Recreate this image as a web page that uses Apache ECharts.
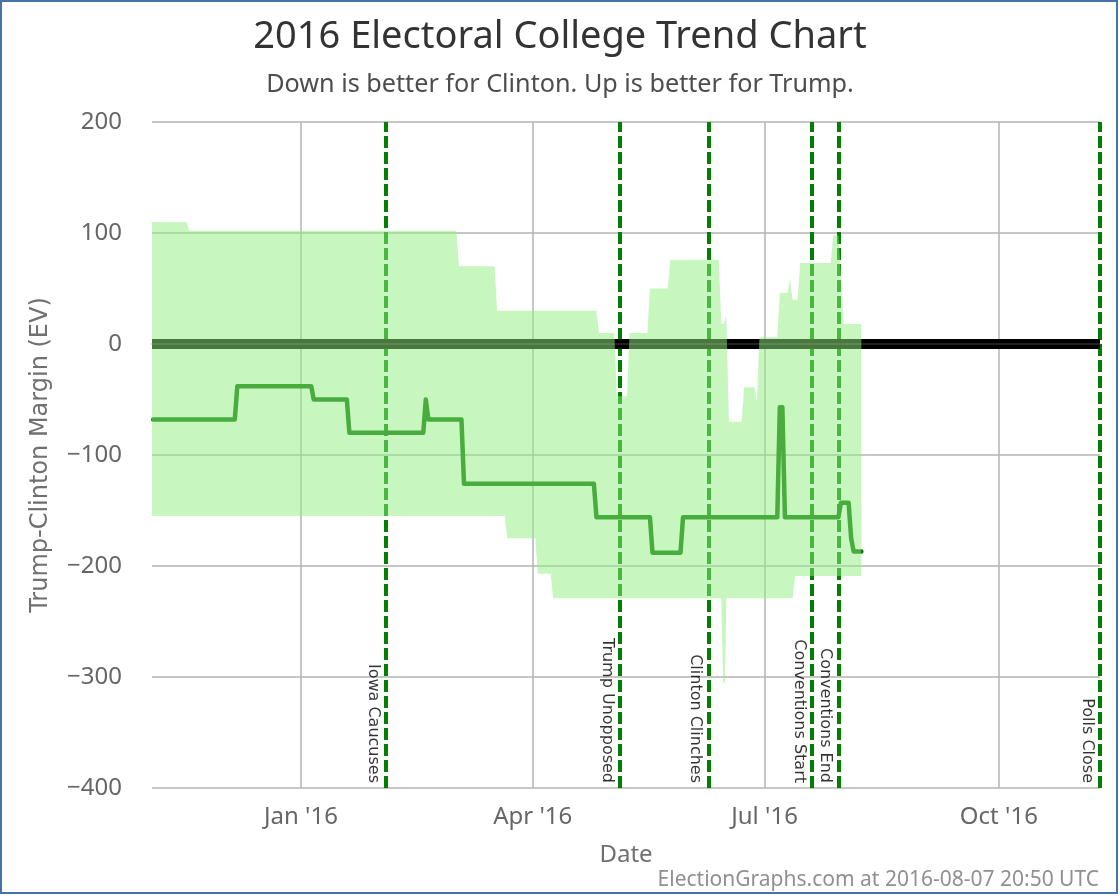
<!DOCTYPE html>
<html>
<head>
<meta charset="utf-8">
<script src="https://cdn.jsdelivr.net/npm/echarts@6/dist/echarts.min.js"></script>
<style>
    html, body { margin: 0; padding: 0; background: #fff; }
    #chart { width: 1120px; height: 896px; }
</style>
</head>
<body>
<div id="chart"></div>
<script>
const tickDates = ["2016-01-01", "2016-04-01", "2016-07-01", "2016-10-01"]
const tickLabels = ["Jan '16", "Apr '16", "Jul '16", "Oct '16"]

const eventNames = ["Iowa Caucuses", "Trump Unopposed", "Clinton Clinches", "Conventions Start", "Conventions End", "Polls Close"]
const eventDates = ["2016-02-03 10:00", "2016-05-05 06:00", "2016-06-09", "2016-07-19 14:00", "2016-07-30", "2016-11-09 17:00"]

// upper edge of the range
const upperDates = ["2015-11-03 12:00", "2015-11-17", "2015-11-18", "2016-03-02", "2016-03-03", "2016-03-17", "2016-03-18",
    "2016-04-26", "2016-04-27", "2016-05-03", "2016-05-04", "2016-05-08", "2016-05-09", "2016-05-16", "2016-05-17",
    "2016-05-24", "2016-05-25", "2016-06-13", "2016-06-14", "2016-06-15", "2016-06-16", "2016-06-17", "2016-06-22",
    "2016-06-23", "2016-06-27", "2016-06-28", "2016-06-29", "2016-07-06", "2016-07-07", "2016-07-10", "2016-07-11",
    "2016-07-12", "2016-07-14", "2016-07-15", "2016-07-27", "2016-07-28", "2016-07-30", "2016-07-31", "2016-08-01", "2016-08-08"]
const upperValues = [110, 110, 102, 102, 70, 70, 30,
    30, 10, 10, -47, -47, 10, 10, 50,
    50, 76, 76, 18, 18, 25, -70, -70,
    -39, -39, -52, 6, 6, 46, 46, 58,
    40, 40, 73, 73, 98, 98, 62, 18, 18]

// lower edge of the range
const lowerDates = ["2015-11-03 12:00", "2016-03-21", "2016-03-22", "2016-04-02", "2016-04-03", "2016-04-08", "2016-04-09",
    "2016-06-14", "2016-06-14 18:00", "2016-06-15 12:00", "2016-06-16", "2016-07-12", "2016-07-13", "2016-08-08"]
const lowerValues = [-155, -155, -175, -175, -207, -207, -229,
    -229, -305, -305, -229, -229, -209, -209]

// center line
const marginDates = ["2015-11-04", "2015-12-06", "2015-12-07", "2016-01-05", "2016-01-06", "2016-01-19", "2016-01-20",
    "2016-02-18", "2016-02-19", "2016-02-20", "2016-03-04", "2016-03-05", "2016-04-25", "2016-04-26",
    "2016-05-17", "2016-05-18", "2016-05-29", "2016-05-30", "2016-07-06", "2016-07-07", "2016-07-08", "2016-07-09",
    "2016-07-30", "2016-07-31", "2016-08-03", "2016-08-04", "2016-08-05", "2016-08-08"]
const marginValues = [-68, -68, -38, -38, -50, -50, -80,
    -80, -50, -68, -68, -126, -126, -156,
    -156, -188, -188, -156, -156, -57, -57, -156,
    -156, -143, -143, -175, -187, -187]

const toMs = (d) => echarts.time.parse(d).getTime()
const zip = (dates, values) => dates.map((d, i) => [toMs(d), values[i]])

const tickMs = tickDates.map(toMs)
const upperPoints = zip(upperDates, upperValues)
const lowerPoints = zip(lowerDates, lowerValues).reverse()
const FONT = "Noto Sans"
const ROTATED_FONT = "DejaVu Sans"

const chart = echarts.init(document.getElementById("chart"))

chart.setOption({
    animation: false,
    backgroundColor: "#fff",
    title: [{
        text: "2016 Electoral College Trend Chart",
        left: "center",
        top: 13,
        textStyle: { fontFamily: FONT, fontSize: 38, fontWeight: "normal", color: "#333" },
    }, {
        text: "Down is better for Clinton. Up is better for Trump.",
        left: "center",
        top: 67,
        textStyle: { fontFamily: FONT, fontSize: 25.2, fontWeight: "normal", color: "#4d4d4d" },
    }, {
        text: "ElectionGraphs.com at 2016-08-07 20:50 UTC",
        right: 16,
        top: 865,
        textStyle: { fontFamily: FONT, fontSize: 21, fontWeight: "normal", color: "#909090" },
    }],
    graphic: [{
        type: "rect",
        shape: { x: 1, y: 1, width: 1116, height: 892 },
        style: { fill: "none", stroke: "#4572a7", lineWidth: 2 },
        silent: true,
    }],
    grid: { left: 152, right: 20, top: 122, bottom: 108 },
    xAxis: {
        type: "value",
        min: toMs("2015-11-03 12:00"),
        max: toMs("2016-11-09 17:00"),
        name: "Date",
        nameLocation: "middle",
        nameGap: 55,
        nameTextStyle: { fontFamily: FONT, fontSize: 24, color: "#707070" },
        axisLine: { lineStyle: { color: "#c0d0e0", width: 2 } },
        axisTick: { show: false, customValues: tickMs },
        axisLabel: {
            customValues: tickMs,
            fontFamily: FONT,
            fontSize: 24,
            color: "#666",
            margin: 17,
            formatter: (value) => tickLabels[tickMs.indexOf(value)],
        },
        splitLine: { show: true, lineStyle: { color: "#b3b3b3", width: 1.5 } },
    },
    yAxis: {
        type: "value",
        min: -400,
        max: 200,
        interval: 100,
        name: "Trump-Clinton Margin (EV)",
        nameLocation: "middle",
        nameGap: 99,
        nameTextStyle: { fontFamily: ROTATED_FONT, fontSize: 24, color: "#707070" },
        axisLine: { show: false },
        axisTick: { show: false },
        axisLabel: {
            fontFamily: FONT,
            fontSize: 24,
            color: "#666",
            margin: 30,
            padding: [4, 0, 0, 0],
            formatter: (value) => String(value).replace("-", "\u2212"),
        },
        splitLine: { lineStyle: { color: "#b3b3b3", width: 1.5 } },
    },
    series: [{
        // zero line and the event markers, all of it below the range
        name: "Markers",
        type: "line",
        z: 2,
        data: [],
        silent: true,
        markLine: {
            z: 2,
            silent: true,
            symbol: "none",
            animation: false,
            label: { show: false },
            data: [
                ...eventDates.map((d) => ({
                    xAxis: toMs(d),
                    lineStyle: { color: "#008000", width: 4, type: [12, 4] },
                })),
                { yAxis: 0, lineStyle: { color: "#000", width: 10, type: "solid" } },
                { yAxis: 0, lineStyle: { color: "#222", width: 2, type: "solid" } },
            ],
        },
    }, {
        name: "Margin",
        type: "line",
        z: 3,
        data: zip(marginDates, marginValues),
        showSymbol: false,
        lineStyle: { color: "#006a00", width: 4.5, cap: "round", join: "round" },
    }, {
        name: "Range",
        type: "custom",
        z: 4,
        silent: true,
        data: upperPoints.concat(lowerPoints),
        encode: { x: 0, y: 1 },
        clip: true,
        renderItem: (params, api) => {
            if (params.dataIndex !== 0) return null
            const ring = upperPoints.concat(lowerPoints)
            return {
                type: "polygon",
                shape: { points: ring.map((p) => api.coord(p)) },
                style: { fill: "#90ed7d", opacity: 0.5 },
            }
        },
    }, {
        name: "Event labels",
        type: "scatter",
        z: 5,
        silent: true,
        symbolSize: 0,
        data: eventDates.map((d, i) => ({ value: [toMs(d), -400], name: eventNames[i] })),
        label: {
            show: true,
            position: [-5, -5],
            rotate: -90,
            align: "right",
            verticalAlign: "top",
            fontFamily: ROTATED_FONT,
            fontSize: 16,
            color: "#000",
            formatter: (p) => p.name,
        },
    }],
})
</script>
</body>
</html>
